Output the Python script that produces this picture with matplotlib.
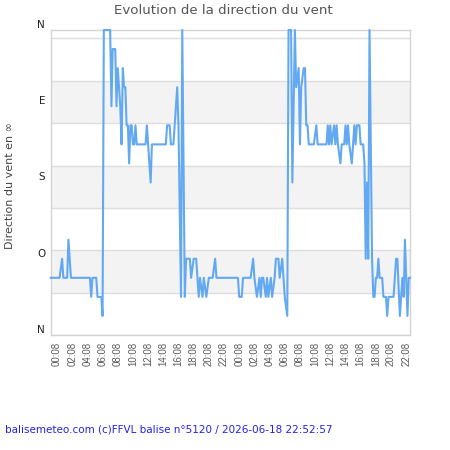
import numpy as np
import pandas as pd
import matplotlib
matplotlib.use("Agg")
import matplotlib.pyplot as plt
import matplotlib.dates as mdates

# samples every 10 minutes from the first record; only the points where the curve turns
start = pd.Timestamp("2026-06-16 23:18")
sample_idx = [
    0, 7, 9, 10, 13, 14, 16, 31, 32, 33, 36, 37, 40, 41, 42, 47, 48, 49, 51, 52,
    53, 55, 56, 57, 58, 59, 60, 61, 62, 63, 64, 65, 66, 67, 68, 75, 76, 77, 79, 80,
    91, 92, 94, 95, 97, 98, 100, 101, 103, 104, 106, 107, 110, 111, 113, 115, 117, 118, 120, 121,
    123, 125, 128, 130, 131, 148, 149, 151, 152, 158, 160, 161, 163, 165, 166, 167, 168, 170, 171, 172,
    174, 175, 177, 178, 180, 181, 183, 184, 185, 187, 188, 190, 191, 193, 194, 196, 197, 198, 200, 201,
    202, 203, 204, 208, 210, 211, 218, 219, 220, 221, 222, 224, 225, 226, 227, 229, 230, 232, 233, 234,
    235, 236, 238, 239, 240, 241, 242, 244, 245, 247, 248, 249, 250, 251, 252, 254, 255, 256, 257, 258,
    259, 260, 262, 263, 265, 266, 267, 271, 273, 274, 276, 278, 279, 280, 282, 283, 284,
]
direction_deg = [
    292.5, 292.5, 270, 292.5, 292.5, 247.5, 292.5, 292.5, 315, 292.5, 292.5, 315, 315, 337.5, 0, 0, 90, 22.5, 22.5, 90,
    45, 90, 135, 45, 67.5, 67.5, 112.5, 112.5, 157.5, 112.5, 112.5, 135, 135, 112.5, 135, 135, 112.5, 135, 180, 135,
    135, 112.5, 112.5, 135, 135, 112.5, 67.5, 112.5, 315, 0, 315, 270, 270, 292.5, 270, 270, 315, 292.5, 315, 292.5,
    315, 292.5, 292.5, 270, 292.5, 292.5, 315, 315, 292.5, 292.5, 270, 292.5, 315, 292.5, 315, 292.5, 292.5, 315, 292.5, 315,
    292.5, 315, 292.5, 270, 270, 292.5, 270, 292.5, 315, 337.5, 0, 0, 180, 0, 67.5, 45, 135, 67.5, 45, 45,
    112.5, 112.5, 135, 135, 112.5, 135, 135, 112.5, 135, 112.5, 135, 112.5, 135, 112.5, 135, 157.5, 135, 135, 112.5, 135,
    112.5, 135, 157.5, 135, 112.5, 135, 112.5, 112.5, 135, 135, 157.5, 270, 180, 270, 0, 270, 315, 315, 292.5, 292.5,
    270, 292.5, 292.5, 315, 315, 337.5, 315, 315, 270, 270, 337.5, 292.5, 315, 247.5, 337.5, 292.5, 292.5,
]
last_idx = 284

compass_deg = [0, 90, 180, 270, 360]
compass_labels = ["N", "E", "S", "O", "N"]
tick_times = pd.date_range("2026-06-17 00:08", periods=24, freq="2h")

times = start + pd.to_timedelta(np.array(sample_idx) * 10, unit="min")

fig = plt.figure(figsize=(4.5, 4.5), dpi=100)
ax = fig.add_axes([50.7 / 450, 1 - 335 / 450, 359.3 / 450, 305 / 450])

# alternating bands and grid lines every 50 degrees from the bottom
for lo in (60, 160, 260):
    ax.axhspan(lo, lo + 50, color="#f3f3f3", lw=0, zorder=0)
for v in range(10, 361, 50):
    ax.axhline(v, color="#dedede", lw=1, zorder=1)

ax.plot(times, direction_deg, color="#62a9f2", lw=1.5, zorder=3, clip_on=False)

ax.set_xlim(start, start + pd.Timedelta(minutes=10 * last_idx))
ax.set_ylim(360, 0)

ax.set_yticks(compass_deg)
ax.set_yticklabels(compass_labels, va="bottom", fontsize=7.5, color="#222222")
ax.set_xticks(tick_times)
ax.xaxis.set_major_formatter(mdates.DateFormatter("%H:%M"))
plt.setp(ax.get_xticklabels(), rotation=90, fontsize=7, family="Liberation Sans", color="#5a5a5a")
ax.tick_params(axis="both", length=0)
ax.tick_params(axis="x", pad=5)
ax.tick_params(axis="y", pad=4)

for s in ax.spines.values():
    s.set_color("#d4d4d4")
    s.set_linewidth(1)

fig.text(0.497, 1 - 11 / 450, "Evolution de la direction du vent", ha="center", va="center",
         fontsize=9.6, color="#555555")
fig.text(10.5 / 450, 1 - 186 / 450, "Direction du vent en \u221e", rotation=90, ha="center", va="center",
         fontsize=8, color="#444444")
fig.text(5 / 450, 1 - 429 / 450, "balisemeteo.com (c)FFVL balise n\u00b05120 / 2026-06-18 22:52:57",
         ha="left", va="center", fontsize=7.5, color="#2222e6")

fig.savefig("out.png", dpi=100)
plt.close(fig)
